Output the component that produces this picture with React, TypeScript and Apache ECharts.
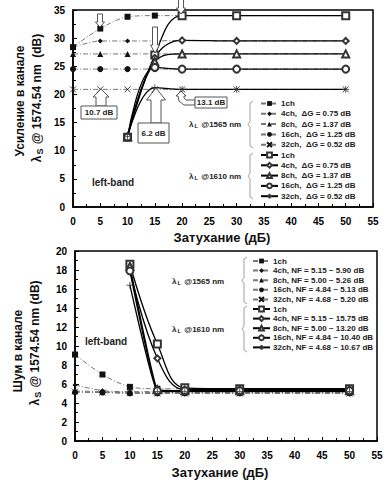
import { useEffect, useRef } from 'react';
import * as echarts from 'echarts';

// ---------- data ----------
const attenuation1565 = [0, 5, 10, 15, 20, 30, 50];
const attenuation1610 = [10, 15, 20, 30, 50];

// Gain (dB) – λL @1565 nm
const gain1565_1ch = [28.4, 31.7, 33.8, 34.0, 34.0, 34.0, 34.0];
const gain1565_4ch = [28.4, 29.5, 29.5, 29.5, 29.6, 29.5, 29.5];
const gain1565_8ch = [27.2, 27.2, 27.2, 27.2, 27.2, 27.2, 27.2];
const gain1565_16ch = [24.5, 24.5, 24.5, 24.5, 24.5, 24.5, 24.5];
const gain1565_32ch = [20.9, 20.9, 20.9, 20.9, 20.9, 20.9, 20.9];
// Gain (dB) – λL @1610 nm
const gain1610_1ch = [12.4, 27.0, 34.0, 34.0, 34.0];
const gain1610_4ch = [12.5, 26.5, 29.6, 29.5, 29.5];
const gain1610_8ch = [12.5, 25.8, 27.2, 27.2, 27.2];
const gain1610_16ch = [12.4, 24.8, 24.5, 24.5, 24.5];
const gain1610_32ch = [12.5, 21.2, 20.9, 20.9, 20.9];

// Noise figure (dB) – λL @1565 nm
const nf1565_1ch = [9.1, 7.0, 5.7, 5.5, 5.5, 5.5, 5.5];
const nf1565_4ch = [5.9, 5.3, 5.2, 5.2, 5.2, 5.2, 5.2];
const nf1565_8ch = [5.26, 5.2, 5.1, 5.1, 5.1, 5.1, 5.1];
const nf1565_16ch = [5.13, 5.1, 5.0, 5.0, 5.0, 5.0, 5.0];
const nf1565_32ch = [5.2, 5.1, 5.1, 5.0, 5.0, 5.0, 5.0];
// Noise figure (dB) – λL @1610 nm
const nf1610_1ch = [18.6, 10.2, 5.6, 5.5, 5.5];
const nf1610_4ch = [18.0, 8.7, 5.4, 5.4, 5.4];
const nf1610_8ch = [18.4, 5.4, 5.3, 5.3, 5.3];
const nf1610_16ch = [17.9, 5.3, 5.3, 5.3, 5.3];
const nf1610_32ch = [16.4, 5.2, 5.2, 5.2, 5.2];

// legend labels (trailing spaces keep names unique, trimmed on display)
const gainNames1565 = ['1ch', '4ch,  ΔG = 0.75 dB', '8ch,  ΔG = 1.37 dB', '16ch,  ΔG = 1.25 dB', '32ch,  ΔG = 0.52 dB'];
const gainNames1610 = ['1ch ', '4ch,  ΔG = 0.75 dB ', '8ch,  ΔG = 1.37 dB ', '16ch,  ΔG = 1.25 dB ', '32ch,  ΔG = 0.52 dB '];
const nfNames1565 = ['1ch  ', '4ch, NF = 5.15 ~ 5.90 dB', '8ch, NF = 5.00 ~ 5.26 dB', '16ch, NF = 4.84 ~ 5.13 dB', '32ch, NF = 4.68 ~ 5.20 dB'];
const nfNames1610 = ['1ch   ', '4ch, NF = 5.15 ~ 15.75 dB', '8ch, NF = 5.00 ~ 13.20 dB', '16ch, NF = 4.84 ~ 10.40 dB', '32ch, NF = 4.68 ~ 10.67 dB'];

const xTicks = [0, 5, 10, 15, 20, 25, 30, 35, 40, 45, 50, 55];

const FONT = '"Liberation Sans", Arial, sans-serif';
const CROSS = 'path://M0,0L8,8M8,0L0,8';
const PLUS = 'path://M4,0L4,8M0,4L8,4';

const symbols1565 = ['rect', 'diamond', 'triangle', 'circle', CROSS];
const sizes1565 = [6, 5, 6, 6, 6];
const symbols1610 = ['emptyRect', 'emptyDiamond', 'emptyTriangle', 'emptyCircle', PLUS];
const sizes1610 = [7, 6, 7, 7, 7];

function zip(xs: number[], ys: number[]) {
  return xs.map((x, i) => [x, ys[i]]);
}

function s1565(name: string, ys: number[], k: number, g: number) {
  return {
    type: 'line', name, xAxisIndex: g, yAxisIndex: g,
    data: zip(attenuation1565, ys), smooth: 0.3,
    symbol: symbols1565[k], symbolSize: sizes1565[k],
    lineStyle: { color: '#777', width: 1, type: [5, 2, 1, 2] },
    itemStyle: { color: '#111', borderColor: '#111', borderWidth: k === 4 ? 0.8 : 0 },
    z: 3,
  };
}
function s1610(name: string, ys: number[], k: number, g: number, smooth = 0.4) {
  return {
    type: 'line', name, xAxisIndex: g, yAxisIndex: g,
    data: zip(attenuation1610, ys), smooth,
    symbol: symbols1610[k], symbolSize: sizes1610[k],
    lineStyle: { color: '#000', width: 1.3 },
    itemStyle: { color: '#333', borderColor: '#333', borderWidth: k === 4 ? 0.8 : 1 },
    z: 4,
  };
}

function downArrow(cx: number, yTop: number, yHead: number, yTip: number, sw: number, hw: number) {
  return {
    type: 'polygon', z: 20,
    shape: { points: [[cx - sw / 2, yTop], [cx + sw / 2, yTop], [cx + sw / 2, yHead], [cx + hw / 2, yHead], [cx, yTip], [cx - hw / 2, yHead], [cx - sw / 2, yHead]] },
    style: { fill: '#fff', stroke: '#555', lineWidth: 1 },
  };
}
function upArrow(cx: number, yBottom: number, yHead: number, yTip: number, sw: number, hw: number) {
  return {
    type: 'polygon', z: 20,
    shape: { points: [[cx - sw / 2, yBottom], [cx + sw / 2, yBottom], [cx + sw / 2, yHead], [cx + hw / 2, yHead], [cx, yTip], [cx - hw / 2, yHead], [cx - sw / 2, yHead]] },
    style: { fill: '#fff', stroke: '#555', lineWidth: 1 },
  };
}
function box(x: number, y: number, w: number, h: number, text: string) {
  return [
    { type: 'rect', z: 20, shape: { x, y, width: w, height: h }, style: { fill: '#fff', stroke: '#555', lineWidth: 1 } },
    { type: 'text', z: 21, x: x + w / 2, y: y + h / 2, style: { text, fontFamily: FONT, fontSize: 8, fontWeight: 'bold', fill: '#222', align: 'center', verticalAlign: 'middle' } },
  ];
}
function brace(x: number, y0: number, y1: number) {
  const yc = (y0 + y1) / 2;
  return {
    type: 'polyline', z: 5,
    shape: { points: [[x + 5, y0], [x + 2, y0 + 2], [x + 2, yc - 3], [x, yc], [x + 2, yc + 3], [x + 2, y1 - 2], [x + 5, y1]] },
    style: { stroke: '#888', lineWidth: 0.8, fill: 'none' },
  };
}
function label(x: number, y: number, text: string, size: number, extra: any = {}) {
  return {
    type: 'text', z: 15, x, y,
    style: {
      text, fontFamily: FONT, fontSize: size, fontWeight: 'bold', fill: '#222',
      align: 'left', verticalAlign: 'middle',
      rich: { s: { fontFamily: FONT, fontSize: Math.round(size * 0.7), fontWeight: 'bold', fill: '#222', padding: [Math.round(size * 0.5), 1, 0, 1] } },
      ...extra,
    },
  };
}
function vText(x: number, y: number, text: string) {
  return {
    type: 'text', z: 15, x, y, rotation: Math.PI / 2,
    style: {
      text, fontFamily: FONT, fontSize: 12, fontWeight: 'bold', fill: '#111',
      align: 'center', verticalAlign: 'middle',
      rich: { s: { fontFamily: FONT, fontSize: 9, fontWeight: 'bold', fill: '#111', padding: [6, 1, 0, 1] } },
    },
  };
}

function xAxisCfg(g: number) {
  return {
    gridIndex: g, type: 'value', min: 0, max: 55, interval: 5,
    axisLine: { show: true, lineStyle: { color: '#000', width: 1.5 } },
    axisTick: { show: true, inside: true, length: 4, lineStyle: { color: '#000' } },
    minorTick: { show: true, splitNumber: 2, length: 3, lineStyle: { color: '#000' } },
    splitLine: { show: false },
    axisLabel: {
      fontFamily: FONT, fontSize: 10, fontWeight: 'bold', color: '#000', margin: 9,
      formatter: (v: number) => (xTicks.includes(v) ? String(v) : ''),
    },
  };
}
function yAxisCfg(g: number, max: number, interval: number) {
  return {
    gridIndex: g, type: 'value', min: 0, max, interval,
    axisLine: { show: true, lineStyle: { color: '#000', width: 1.5 } },
    axisTick: { show: true, inside: true, length: 4, lineStyle: { color: '#000' } },
    minorTick: { show: true, splitNumber: 2, length: 3, lineStyle: { color: '#000' } },
    splitLine: { show: false },
    axisLabel: { fontFamily: FONT, fontSize: 10, fontWeight: 'bold', color: '#000', margin: 8 },
  };
}
function legendCfg(left: number, top: number, gap: number, names: string[]) {
  return {
    orient: 'vertical', left, top, padding: 0, itemGap: gap,
    itemWidth: 17, itemHeight: 6, selectedMode: false,
    data: names,
    formatter: (n: string) => n.trim(),
    textStyle: { fontFamily: FONT, fontSize: 8, fontWeight: 'bold', color: '#222', lineHeight: 9, padding: [0, 0, 0, -2] },
  };
}

export default function App() {
  const ref = useRef<HTMLDivElement>(null);
  useEffect(() => {
    if (!ref.current) return;
    const chart = echarts.init(ref.current, undefined, { renderer: 'svg' });
    const g1565 = [gain1565_1ch, gain1565_4ch, gain1565_8ch, gain1565_16ch, gain1565_32ch];
    const g1610 = [gain1610_1ch, gain1610_4ch, gain1610_8ch, gain1610_16ch, gain1610_32ch];
    const n1565 = [nf1565_1ch, nf1565_4ch, nf1565_8ch, nf1565_16ch, nf1565_32ch];
    const n1610 = [nf1610_1ch, nf1610_4ch, nf1610_8ch, nf1610_16ch, nf1610_32ch];
    const nfSmooth = [0.4, 0.4, 0.08, 0.08, 0.08];
    const series: any[] = [];
    g1565.forEach((d, k) => series.push(s1565(gainNames1565[k], d, k, 0)));
    g1610.forEach((d, k) => series.push(s1610(gainNames1610[k], d, k, 0)));
    n1565.forEach((d, k) => series.push(s1565(nfNames1565[k], d, k, 1)));
    n1610.forEach((d, k) => series.push(s1610(nfNames1610[k], d, k, 1, nfSmooth[k])));

    const graphic: any[] = [
      // annotations (top chart)
      downArrow(100, 14, 22, 27, 5, 9),
      downArrow(155, 27, 45, 53, 5, 9),
      downArrow(181, -2, 8, 14, 5, 9),
      upArrow(101, 106, 97, 89, 10, 16),
      ...box(81, 106, 36, 13, '10.7 dB'),
      upArrow(156, 123, 100, 88, 10, 19),
      ...box(138, 123, 31, 20, '6.2 dB'),
      {
        type: 'polygon', z: 20,
        shape: { points: [[181, 91], [186, 96], [184, 96], [184, 98], [186, 100], [195, 100], [195, 105], [184, 105], [179, 101], [178, 96], [176, 96]] },
        style: { fill: '#fff', stroke: '#555', lineWidth: 1 },
      },
      ...box(195, 97, 32, 11, '13.1 dB'),
      label(92, 182, 'left-band', 10),
      label(85, 341, 'left-band', 10),
      // legend group labels and braces
      label(189, 124, 'λ{s|L} @1565 nm', 8),
      label(189, 176, 'λ{s|L} @1610 nm', 8),
      brace(248, 101, 148),
      brace(248, 153, 199),
      label(172, 281, 'λ{s|L} @1565 nm', 8),
      label(172, 329, 'λ{s|L} @1610 nm', 8),
      brace(242, 257, 304),
      brace(242, 306, 352),
      // axis titles
      vText(20, 101, 'Усиление в канале'),
      vText(37, 98, 'λ{s|S} @ 1574.54 nm  (dB)'),
      vText(18, 351, 'Шум в канале'),
      vText(35, 343, 'λ{s|S} @ 1574.54 nm (dB)'),
      { type: 'text', z: 15, x: 222, y: 237, style: { text: 'Затухание (дБ)', fontFamily: FONT, fontSize: 13, fontWeight: 'bold', fill: '#111', align: 'center', verticalAlign: 'middle' } },
      { type: 'text', z: 15, x: 220, y: 472, style: { text: 'Затухание (дБ)', fontFamily: FONT, fontSize: 13, fontWeight: 'bold', fill: '#111', align: 'center', verticalAlign: 'middle' } },
    ];

    chart.setOption({
      animation: false,
      backgroundColor: '#fff',
      grid: [
        { left: 73, top: 10, width: 300, height: 197, show: true, borderColor: '#000', borderWidth: 1.5 },
        { left: 75, top: 251, width: 302, height: 190, show: true, borderColor: '#000', borderWidth: 1.5 },
      ],
      xAxis: [xAxisCfg(0), xAxisCfg(1)],
      yAxis: [yAxisCfg(0, 35, 5), yAxisCfg(1, 20, 2)],
      legend: [
        legendCfg(260, 99, 1.3, [...gainNames1565, ...gainNames1610]),
        legendCfg(252, 256.5, 0.6, [...nfNames1565, ...nfNames1610]),
      ],
      series,
      graphic,
    });
    return () => chart.dispose();
  }, []);
  return <div ref={ref} style={{ position: 'fixed', left: 0, top: 0, width: 389, height: 487, background: '#fff' }} />;
}
